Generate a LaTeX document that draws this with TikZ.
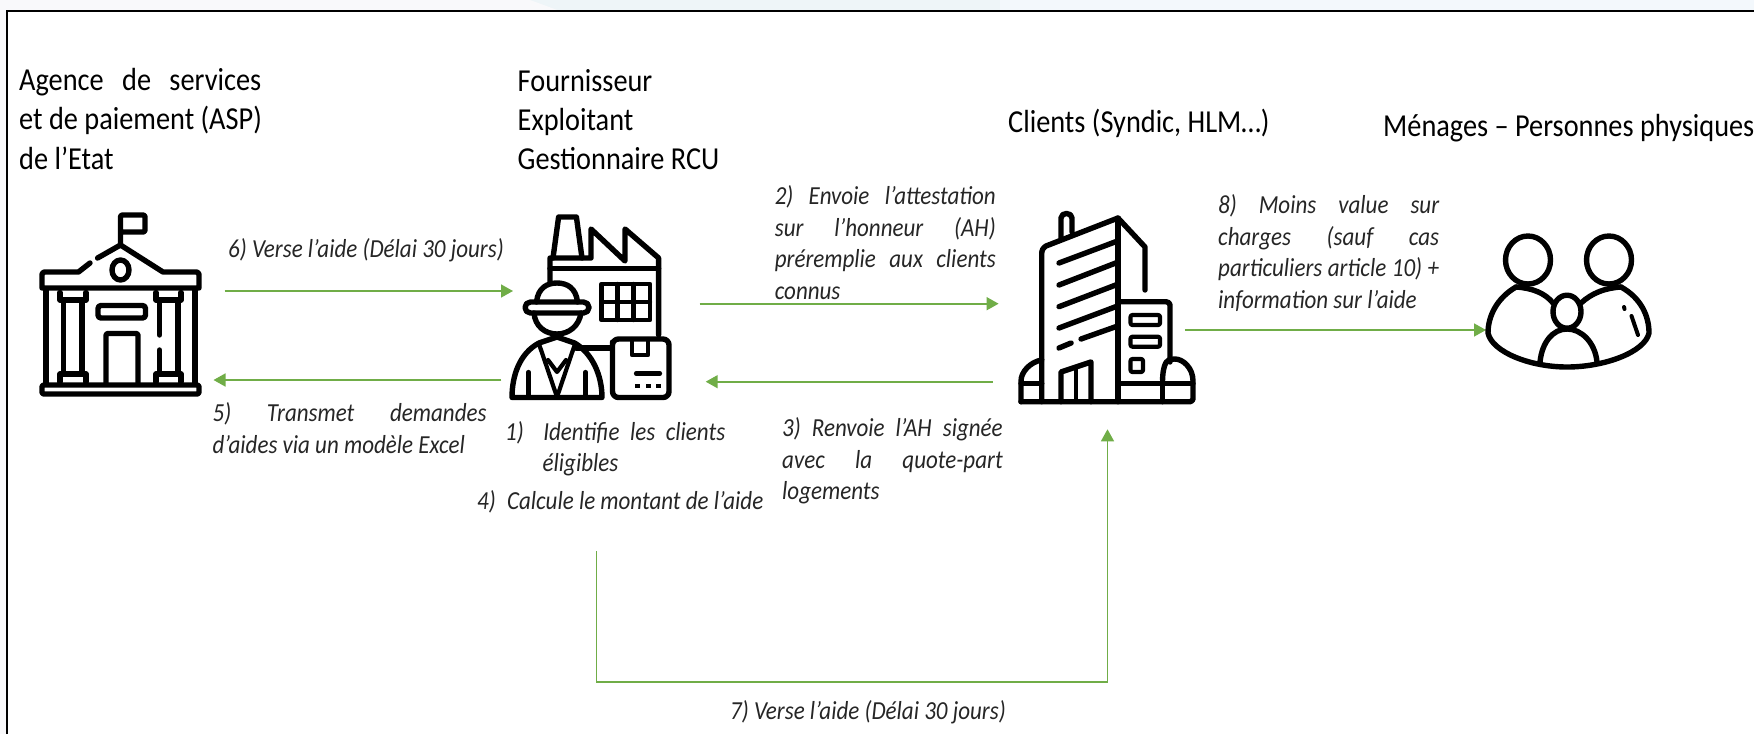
\documentclass[tikz,border=0pt]{standalone}
\usepackage{fontspec}
\setmainfont{Carlito}[FakeStretch=0.885]
\usetikzlibrary{arrows.meta}
\definecolor{flow}{HTML}{70AD47}
\definecolor{ink}{HTML}{262626}
\definecolor{halo}{HTML}{F3F8FC}
\definecolor{haloa}{HTML}{F9F9FB}
\definecolor{halob}{HTML}{EEF5F8}
\newcommand{\sline}[2]{\makebox[#1pt][s]{#2}}
\newcommand{\hd}{\rule{0pt}{20pt}}
\newcommand{\nt}{\rule{0pt}{16pt}}
\tikzset{
  x=1pt,y=-1pt,
  flowline/.style={draw=flow,line width=1.6pt,-{Triangle[length=12pt,width=13pt]}},
  heading/.style={anchor=north west,inner sep=0pt,align=left,text=black,font=\fontsize{32}{39.3}\selectfont},
  note/.style={anchor=north west,inner sep=0pt,align=left,text=ink,font=\fontsize{26}{31.6}\selectfont\itshape},
  icon/.style={draw=black,line width=5.4pt,line join=round,line cap=round,fill=none},
}
\begin{document}
\begin{tikzpicture}
\useasboundingbox (0,0) rectangle (1754,734);
\fill[halo] (0,0) rectangle (1754,734);
\fill[halob] (0,0) rectangle (1000,11);
\fill[haloa] (0,0) -- (530,0) -- (560,11) -- (0,11) -- cycle;
\fill[haloa] (0,0) rectangle (7,734);
\fill[white] (7,11) rectangle (1754,734);
\draw[black,line width=1.8pt] (7,734) -- (7,11) -- (1754,11);
% headings
\node[heading] (hA) at (19,68) {\hd\sline{242}{Agence de services}\\et de paiement (ASP)\\de l’Etat};
\node[heading] (hB) at (517.5,69) {\hd Fournisseur\\Exploitant\\Gestionnaire RCU};
\node[heading] (hC) at (1008,109) {\hd Clients (Syndic, HLM…)};
\node[heading] (hD) at (1383,114.5) {\hd Ménages – Personnes physiques};
% notes
\node[note] (n6) at (228,238) {\nt 6) Verse l’aide (Délai 30 jours)};
\node[note] (n5) at (212.4,402.7) {\nt\sline{274}{5) \hfil Transmet \hfil demandes}\\d’aides via un modèle Excel};
\node[note] (n1) at (505,421) {\nt\sline{220}{1)\hspace{9pt} Identifie les clients}\\\hspace*{37.5pt}éligibles};
\node[note] (n4) at (477,490.5) {\nt 4)\hspace{6pt} Calcule le montant de l’aide};
\node[note] (n2) at (774.6,185.5) {\nt\sline{221}{2) Envoie l’attestation}\\\sline{221}{sur l’honneur (AH)}\\\sline{221}{préremplie aux clients}\\connus};
\node[note] (n3) at (782,417.3) {\nt\sline{220.5}{3) Renvoie l’AH signée}\\\sline{220.5}{avec la quote-part}\\logements};
\node[note] (n7) at (730,700.5) {\nt 7) Verse l’aide (Délai 30 jours)};
\node[note] (n8) at (1218,194.5) {\nt\sline{221}{8) Moins value sur}\\\sline{221}{charges (sauf cas}\\\sline{221}{particuliers article 10) +}\\information sur l’aide};
% connector ends
\coordinate (e6a) at (224.6,291); \coordinate (e6b) at (513,291);
\coordinate (e5a) at (501.3,380); \coordinate (e5b) at (213.5,380);
\coordinate (e2a) at (699.6,303.7); \coordinate (e2b) at (998.6,303.7);
\coordinate (e3a) at (992.5,381.7); \coordinate (e3b) at (705.7,381.7);
\coordinate (e8a) at (1184.8,330); \coordinate (e8b) at (1486,330);
\coordinate (e7a) at (596.5,551); \coordinate (e7b) at (1107.5,429.3);
\draw[flowline] (e6a) -- (e6b);
\draw[flowline] (e5a) -- (e5b);
\draw[flowline] (e2a) -- (e2b);
\draw[flowline] (e3a) -- (e3b);
\draw[flowline] (e8a) -- (e8b);
\draw[flowline,line width=1.4pt] (e7a) -- (e7a |- 0,682) -- (e7b |- 0,682) -- (e7b);
% --- State building
\begin{scope}[icon]
\draw[rounded corners=2pt] (120.5,245) -- (120.5,215) -- (145,215) -- (145,232) -- (120.5,232);
\draw (97.6,258) -- (120.5,245) -- (163,272) -- (197,272) -- (199,274) -- (199,288) -- (42,288) -- (42,274) -- (44,272) -- (78.5,272) -- (90,263);
\draw (120.5,270) ellipse [x radius=8.5,y radius=10];
\draw (46,290) -- (46,383); \draw (195,290) -- (195,383);
\draw[rounded corners=2pt] (42,385) rectangle (199,394);
\draw (63.5,302) -- (63.5,372); \draw (82,302) -- (82,372);
\draw (159.5,302) -- (159.5,335); \draw (159.5,350) -- (159.5,372); \draw (178,302) -- (178,372);
\draw (60,292.5) -- (60,300) -- (86,300) -- (86,292.5);
\draw (156,292.5) -- (156,300) -- (181,300) -- (181,292.5);
\draw (60,382) -- (60,374) -- (86,374) -- (86,382);
\draw (156,382) -- (156,374) -- (181,374) -- (181,382);
\draw[rounded corners=3pt] (98,305.5) rectangle (145.5,318);
\draw[rounded corners=2pt] (106,383) -- (106,333.5) -- (138,333.5) -- (138,383);
\end{scope}
% --- Factory + worker
\begin{scope}[icon]
\draw (553,258) -- (558.6,217) -- (576.4,217) -- (582,258);
\draw (550,283) -- (550,258) -- (591,258) -- (591,229) -- (625,261) -- (625,229) -- (658.6,258) -- (658.6,335);
\draw (550,268.5) -- (658.6,268.5);
\draw[line width=4.4pt] (601.5,284) rectangle (650,320);
\draw[line width=4.4pt] (617.5,284) -- (617.5,320) (633.6,284) -- (633.6,320) (601.5,302) -- (650,302);
\draw[rounded corners=5.5pt] (525,302) rectangle (589,313);
\draw (536.5,302) .. controls (538,288) and (547,283) .. (557,283) .. controls (567,283) and (576,288) .. (577.5,302);
\draw (534,313) .. controls (535,326) and (545,334) .. (557,334) .. controls (569,334) and (579,326) .. (581,313);
\draw (512,397.5) .. controls (512,375) and (520,353) .. (539,343) -- (557,337) -- (574.6,343) .. controls (592,353) and (602,375) .. (602,397.5) -- cycle;
\draw[line width=4.2pt] (539,344) -- (557,397) -- (575,344);
\draw[line width=4.2pt] (548,360) -- (557,372) -- (566,360);
\draw[line width=4.2pt] (528.5,372) -- (528.5,396) (585.5,372) -- (585.5,396);
\draw (576,348) -- (611,348);
\draw[rounded corners=6pt] (612.5,348) -- (612.5,339) -- (669,339) -- (669,397.5) -- (612.5,397.5) -- cycle;
\draw[line width=4.2pt] (632,339) -- (632,355) -- (648,355) -- (648,339);
\draw[line width=4.2pt] (636,373.5) -- (660,373.5);
\draw[line width=4.2pt,line cap=butt] (635,386) -- (640,386) (646,386) -- (651,386) (656,386) -- (661,386);
\end{scope}
% --- Client tower
\begin{scope}[icon]
\draw (1041.7,401.7) -- (1041.7,254) .. controls (1041.7,250) and (1043,248) .. (1046,246) -- (1118,218) -- (1145,247) -- (1145,290);
\draw (1118,218) -- (1118,401.7);
\draw (1061,238) -- (1061,218) .. controls (1061,212) and (1072,212) .. (1072,218) -- (1072,232);
\draw (1059,263) -- (1115.7,241.7);
\draw (1059,285) -- (1115.7,263);
\draw (1059,306.7) -- (1115.7,285);
\draw (1059,328) -- (1115.7,306.7);
\draw (1059,348) -- (1071,343);
\draw (1081,339) -- (1115.7,326.7);
\draw (1118,301.7) -- (1166,301.7) .. controls (1168,301.7) and (1170,303) .. (1170,305) -- (1170,362);
\draw (1162.6,401.7) -- (1162.6,380);
\draw[line width=4.2pt,rounded corners=2pt] (1130.5,315) rectangle (1160,325);
\draw[line width=4.2pt,rounded corners=2pt] (1130.5,336.7) rectangle (1160,346.7);
\draw[line width=4.2pt,rounded corners=2pt] (1130.5,359) rectangle (1143,372);
\draw (1061,401.7) -- (1061,372) -- (1091,362) -- (1091,401.7);
\draw[line width=4.2pt] (1076,368) -- (1076,401.7);
\draw[rounded corners=3pt] (1021,401.7) -- (1193,401.7) -- (1193,384) .. controls (1193,368) and (1183,359) .. (1172,359) .. controls (1165,361) and (1162.6,370) .. (1162.6,380);
\draw[rounded corners=3pt] (1041.7,360) .. controls (1030,362) and (1021,372) .. (1021,384) -- (1021,401.7);
\draw (1021,383.5) -- (1041.7,383.5);
\draw (1120,383.5) -- (1193,383.5);
\end{scope}
% --- Household
\begin{scope}[icon]
\draw (1528,260) ellipse [x radius=22.5,y radius=24];
\draw (1609,260) ellipse [x radius=22.5,y radius=24];
\draw (1516,287) .. controls (1497,298) and (1488,316) .. (1488,333) .. controls (1492,352) and (1530,367) .. (1567,367) .. controls (1605,367) and (1645,352) .. (1649,333) .. controls (1649,316) and (1641,298) .. (1621,287);
\draw (1516,287) .. controls (1532,288) and (1545,293) .. (1553,303);
\draw (1621,287) .. controls (1605,288) and (1592,293) .. (1581,303);
\draw (1567,311.7) ellipse [x radius=14,y radius=16.5];
\draw (1540,362) .. controls (1542,342) and (1553,329) .. (1567,329) .. controls (1581,329) and (1595,342) .. (1597,362);
\draw[line width=4pt] (1624,307) -- (1624.5,309);
\draw[line width=4pt] (1631.5,316) -- (1638,335);
\end{scope}
\end{tikzpicture}
\end{document}
